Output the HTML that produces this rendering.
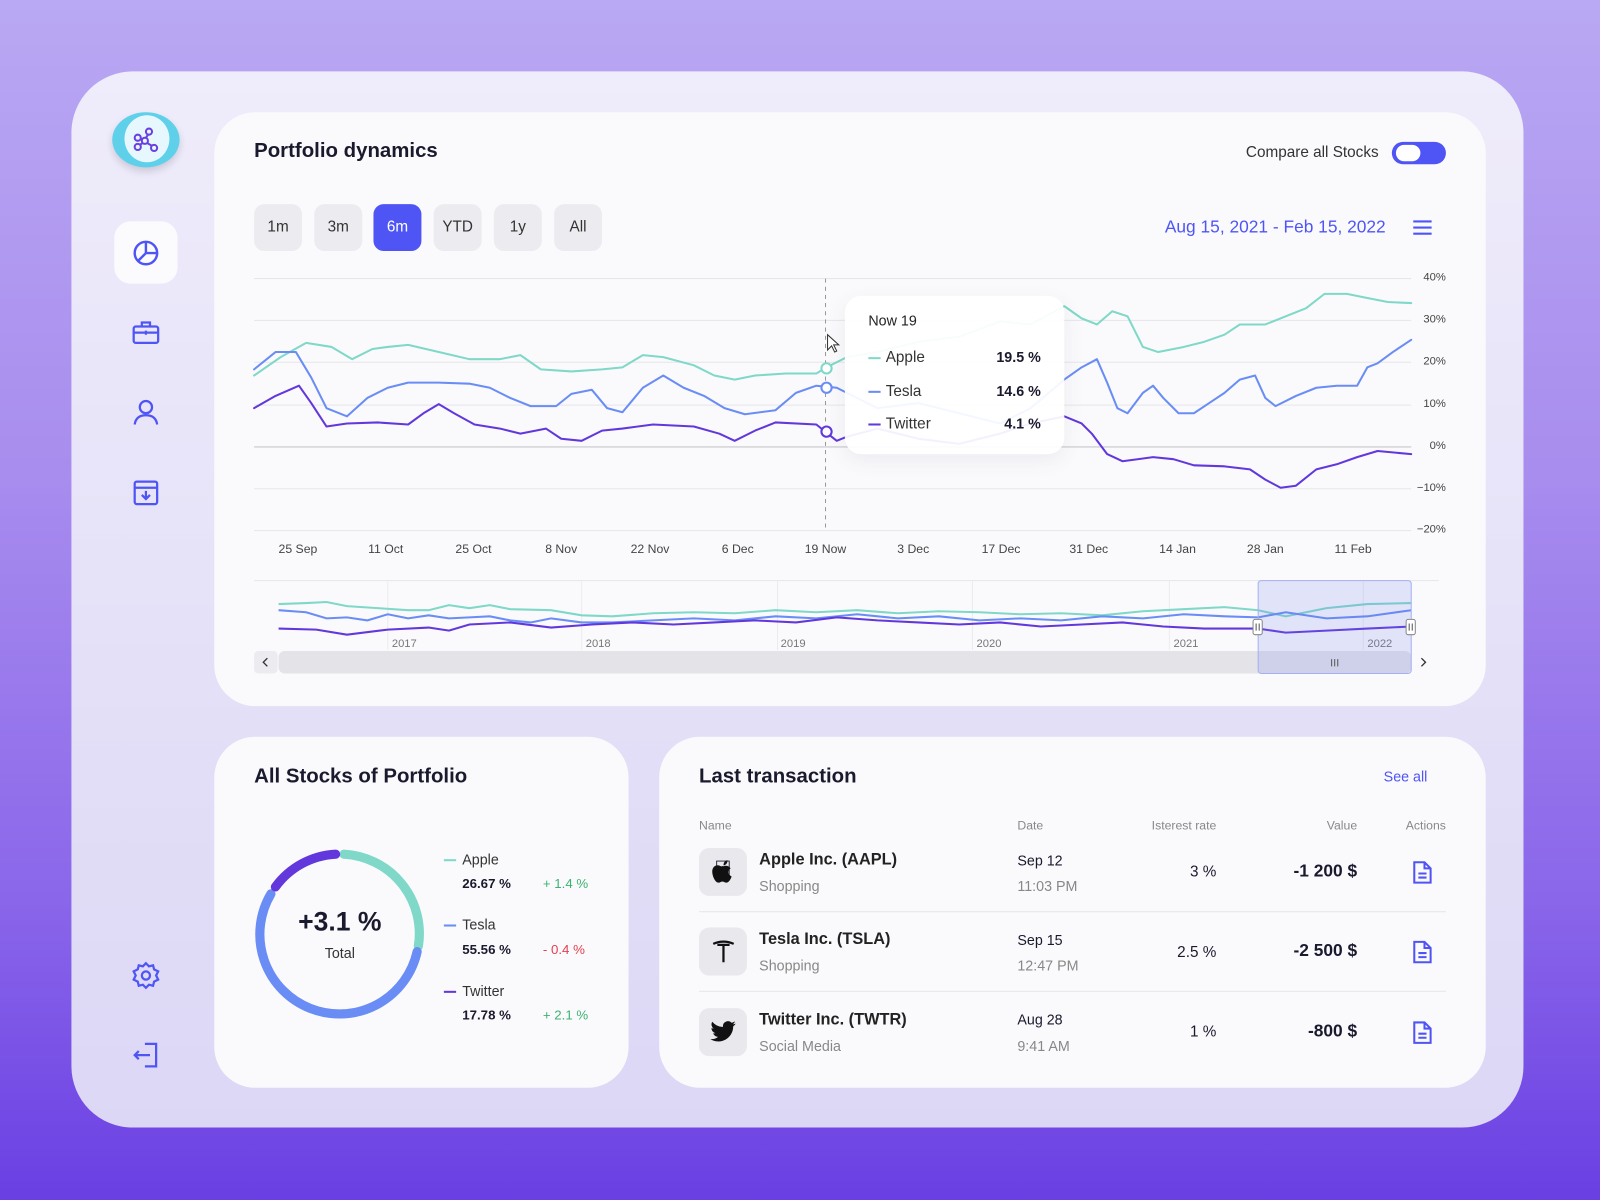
<!DOCTYPE html>
<html><head><meta charset="utf-8"><style>
*{margin:0;padding:0;box-sizing:border-box}
html,body{width:1600px;height:1200px;overflow:hidden}
body{background:linear-gradient(180deg,#b9a8f3 0%,#a88cee 40%,#8a66ea 75%,#6a3fe3 100%);font-family:"Liberation Sans",sans-serif;color:#1a1a2e}
#w{position:absolute;left:0;top:0;width:1568px;height:1176px;transform:scale(1.020408);transform-origin:0 0}
.a{position:absolute}
.outer{left:70px;top:70px;width:1423px;height:1035px;border-radius:60px;background:linear-gradient(180deg,#efecfb,#dcd7f5)}
.card{background:#fafafc;border-radius:40px}
.btn{top:200px;width:47px;height:46px;border-radius:10px;background:#ececf0;font-size:15px;color:#333;text-align:center;line-height:46px}
.t{font-size:20px;font-weight:bold;color:#1a1a2e}
.yl{font-size:11px;color:#444;text-align:right;width:40px}
.xl{font-size:12px;color:#444;text-align:center;width:60px}
.hd{font-size:12px;color:#888}
.nm{font-size:16px;font-weight:bold;color:#222}
.sub{font-size:14px;color:#888}
.ib{width:47px;height:47px;border-radius:10px;background:#e8e8ed}
</style></head><body><div id="w">
<div class="a outer"></div>
<!-- sidebar -->
<div class="a" style="left:110px;top:110px;width:66px;height:54px;border-radius:50%;background:#5fd0ea;box-shadow:0 4px 8px rgba(0,0,0,.15)"></div>
<div class="a" style="left:122px;top:113px;width:44px;height:46px;border-radius:50%;background:#e6f8fd"></div>
<svg class="a" style="left:128px;top:122px" width="30" height="30" viewBox="0 0 30 30" fill="none" stroke="#6a3fe3" stroke-width="2"><circle cx="18" cy="7" r="3"/><circle cx="7" cy="13" r="3"/><circle cx="14" cy="16" r="3"/><circle cx="7" cy="22" r="3"/><circle cx="23" cy="23" r="3"/><path d="M17 10l-2 3M10 14l2 1M12 18l-3 2M16 18l5 3"/></svg>
<div class="a" style="left:112px;top:217px;width:62px;height:61px;border-radius:16px;background:#fbfbfe"></div>
<svg class="a" style="left:128px;top:232px" width="30" height="30" viewBox="0 0 30 30" fill="none" stroke="#4f55f5" stroke-width="2.4"><circle cx="15" cy="16" r="11"/><path d="M15 5v11h11M15 16l-8 8"/></svg>
<svg class="a" style="left:128px;top:311px" width="30" height="30" viewBox="0 0 30 30" fill="none" stroke="#4f55f5" stroke-width="2.2"><rect x="3" y="9" width="24" height="16" rx="2"/><path d="M11 9V5h8v4M3 15h24M15 13v4"/></svg>
<svg class="a" style="left:128px;top:389px" width="30" height="30" viewBox="0 0 30 30" fill="none" stroke="#4f55f5" stroke-width="2.2"><circle cx="15" cy="10" r="6"/><path d="M4 27c1-7 6-9 11-9s10 2 11 9"/></svg>
<svg class="a" style="left:128px;top:468px" width="30" height="30" viewBox="0 0 30 30" fill="none" stroke="#4f55f5" stroke-width="2.2"><rect x="4" y="4" width="22" height="22" rx="2"/><path d="M4 10h22M15 13v8M11 17l4 4 4-4"/></svg>
<svg class="a" style="left:128px;top:941px" width="30" height="30" viewBox="0 0 30 30" fill="none" stroke="#4f55f5" stroke-width="2.2"><circle cx="15" cy="15" r="4"/><path d="M15 3l3 3 4-1 1 4 4 2-2 4 2 4-4 2-1 4-4-1-3 3-3-3-4 1-1-4-4-2 2-4-2-4 4-2 1-4 4 1z"/></svg>
<svg class="a" style="left:128px;top:1019px" width="30" height="30" viewBox="0 0 30 30" fill="none" stroke="#4f55f5" stroke-width="2.2"><path d="M14 4h11v22H14M4 15h15M8 11l-4 4 4 4"/></svg>

<!-- chart card -->
<div class="a card" style="left:210px;top:110px;width:1246px;height:582px"></div>
<div class="a t" style="left:249px;top:137px">Portfolio dynamics</div>
<div class="a" style="left:1221px;top:141px;font-size:15px;color:#333">Compare all Stocks</div>
<div class="a" style="left:1364px;top:139px;width:53px;height:22px;border-radius:11px;background:#4f55f5"></div>
<div class="a" style="left:1368px;top:142px;width:24px;height:16px;border-radius:8px;background:#fff"></div>
<div class="a btn" style="left:249px">1m</div>
<div class="a btn" style="left:308px">3m</div>
<div class="a btn" style="left:366px;background:#4f55f5;color:#fff">6m</div>
<div class="a btn" style="left:425px">YTD</div>
<div class="a btn" style="left:484px">1y</div>
<div class="a btn" style="left:543px">All</div>
<div class="a" style="left:1100px;top:213px;width:258px;text-align:right;font-size:17px;color:#4f55f5">Aug 15, 2021 - Feb 15, 2022</div>
<svg class="a" style="left:1384px;top:214px" width="20" height="18"><path d="M1 3h18M1 9h18M1 15h18" stroke="#4f55f5" stroke-width="2"/></svg>

<svg class="a" style="left:0;top:0" width="1568" height="700">
<g stroke="#e6e6ea" stroke-width="1"><path d="M249 273H1383M249 314H1383M249 355H1383M249 397H1383M249 479H1383M249 520H1383"/></g>
<path d="M249 438H1383" stroke="#c8c8cc"/>
<path d="M809 273V520" stroke="#999" stroke-dasharray="4 4"/>
<g fill="none" stroke-width="2" stroke-linejoin="round" stroke-linecap="round">
<polyline stroke="#7fd8c8" points="249,368 275,350 300,336 325,340 345,352 365,342 380,340 400,338 430,345 460,352 490,352 510,348 530,362 560,364 590,362 610,360 630,348 650,350 680,358 700,368 720,372 740,368 770,366 800,366 810,360 830,350 860,345 900,335 940,330 980,315 1010,318 1043,300 1060,312 1075,318 1090,305 1105,310 1120,340 1135,345 1160,340 1180,335 1200,328 1215,318 1240,318 1260,310 1280,302 1298,288 1320,288 1340,292 1360,296 1383,297"/>
<polyline stroke="#6a8df5" points="249,362 270,345 290,345 305,370 320,400 340,408 360,390 380,380 400,375 430,375 460,376 480,380 500,390 520,398 545,398 560,386 580,382 595,400 610,404 630,380 650,368 670,380 690,388 710,400 730,406 760,402 780,385 800,378 820,380 830,385 860,400 900,395 940,405 980,415 1010,400 1043,372 1060,360 1075,352 1085,375 1095,400 1105,405 1120,385 1130,378 1140,390 1155,405 1170,405 1185,395 1200,385 1215,372 1230,368 1240,390 1250,398 1270,388 1290,380 1310,378 1330,378 1340,360 1350,356 1365,345 1383,333"/>
<polyline stroke="#6237dc" points="249,400 270,388 293,378 305,395 320,418 340,415 370,414 400,416 415,405 430,396 445,405 465,416 490,420 510,425 535,420 550,430 570,432 590,422 610,420 640,416 680,418 705,425 720,432 740,422 760,414 800,416 810,424 820,432 830,428 860,420 900,430 940,435 980,425 1010,415 1043,408 1060,415 1070,425 1085,445 1100,452 1130,448 1150,450 1170,456 1200,457 1225,460 1240,470 1255,478 1270,476 1290,460 1310,455 1330,448 1350,442 1383,445"/>
</g>
<g fill="#fff" stroke-width="2"><circle cx="810" cy="361" r="5" stroke="#7fd8c8"/><circle cx="810" cy="380" r="5" stroke="#6a8df5"/><circle cx="810" cy="423" r="5" stroke="#6237dc"/></g>
<path d="M811 328l0 15 4-4 3 6 2-1-3-6 5 0z" fill="#fff" stroke="#333" stroke-width="1"/>
<!-- navigator -->
<path d="M249 569H1410" stroke="#e6e6ea"/>
<g stroke="#ececf0"><path d="M380 569V637M570 569V637M762 569V637M953 569V637M1146 569V637M1336 569V637"/></g>
<g fill="none" stroke-width="2">
<polyline stroke="#7fd8c8" points="273,592 300,591 320,590 340,594 370,596 400,598 420,598 440,593 460,596 480,593 500,597 540,598 570,603 600,604 640,601 680,600 720,601 760,598 800,600 840,598 880,601 920,599 960,600 1000,602 1040,601 1080,603 1120,599 1160,597 1200,595 1233,598 1260,604 1300,596 1340,592 1383,591"/>
<polyline stroke="#6a8df5" points="273,598 300,600 320,606 340,605 360,608 380,602 400,606 420,603 440,606 460,605 480,604 500,608 520,610 540,606 570,610 600,610 640,608 680,606 720,608 760,604 800,606 840,602 880,606 920,604 960,608 1000,606 1040,608 1080,604 1120,606 1160,602 1200,604 1233,605 1260,600 1300,606 1340,604 1383,598"/>
<polyline stroke="#6237dc" points="273,616 310,617 340,622 380,617 420,615 440,618 460,612 500,610 540,615 580,612 620,610 660,612 700,610 740,608 780,610 820,605 860,608 900,610 940,612 980,610 1020,614 1060,612 1100,610 1140,614 1180,616 1233,616 1260,620 1300,618 1340,616 1383,614"/>
</g>
<g font-family="Liberation Sans" font-size="11" fill="#777"><text x="384" y="634">2017</text><text x="574" y="634">2018</text><text x="765" y="634">2019</text><text x="957" y="634">2020</text><text x="1150" y="634">2021</text><text x="1340" y="634">2022</text></g>
<rect x="249" y="638" width="23" height="22" rx="4" fill="#ececf0"/><path d="M262 645l-4 4 4 4" stroke="#333" fill="none" stroke-width="1.3"/>
<rect x="273" y="638" width="1110" height="22" rx="6" fill="#e3e3e8"/>
<path d="M1393 645l4 4-4 4" stroke="#333" fill="none" stroke-width="1.3"/>
<rect x="1233" y="569" width="150" height="91" rx="3" fill="rgba(110,130,240,0.18)" stroke="#a3b0f2"/>
<rect x="1228" y="607" width="9" height="15" rx="2" fill="#fff" stroke="#888"/><rect x="1378" y="607" width="9" height="15" rx="2" fill="#fff" stroke="#888"/>
<path d="M1231 611v7M1234 611v7M1381 611v7M1384 611v7M1305 646v7M1308 646v7M1311 646v7" stroke="#555"/>
</svg>
<div class="a" style="left:828px;top:290px;width:215px;height:155px;border-radius:16px;background:rgba(255,255,255,.93);box-shadow:0 6px 20px rgba(80,80,120,.08)"></div>
<div class="a" style="left:851px;top:306px;font-size:14px;color:#222">Now 19</div>
<div class="a" style="left:851px;top:350px;width:12px;height:2px;background:#7fd8c8"></div>
<div class="a" style="left:868px;top:342px;font-size:15px;color:#333">Apple</div><div class="a" style="left:940px;top:342px;width:80px;text-align:right;font-size:14px;font-weight:bold">19.5 %</div>
<div class="a" style="left:851px;top:383px;width:12px;height:2px;background:#6a8df5"></div>
<div class="a" style="left:868px;top:375px;font-size:15px;color:#333">Tesla</div><div class="a" style="left:940px;top:375px;width:80px;text-align:right;font-size:14px;font-weight:bold">14.6 %</div>
<div class="a" style="left:851px;top:415px;width:12px;height:2px;background:#6237dc"></div>
<div class="a" style="left:868px;top:407px;font-size:15px;color:#333">Twitter</div><div class="a" style="left:940px;top:407px;width:80px;text-align:right;font-size:14px;font-weight:bold">4.1 %</div>
<div class="a yl" style="left:1377px;top:266px">40%</div><div class="a yl" style="left:1377px;top:307px">30%</div><div class="a yl" style="left:1377px;top:348px">20%</div><div class="a yl" style="left:1377px;top:390px">10%</div><div class="a yl" style="left:1377px;top:431px">0%</div><div class="a yl" style="left:1377px;top:472px">−10%</div><div class="a yl" style="left:1377px;top:513px">−20%</div>
<div class="a xl" style="left:262px;top:531px">25 Sep</div><div class="a xl" style="left:348px;top:531px">11 Oct</div><div class="a xl" style="left:434px;top:531px">25 Oct</div><div class="a xl" style="left:520px;top:531px">8 Nov</div><div class="a xl" style="left:607px;top:531px">22 Nov</div><div class="a xl" style="left:693px;top:531px">6 Dec</div><div class="a xl" style="left:779px;top:531px">19 Now</div><div class="a xl" style="left:865px;top:531px">3 Dec</div><div class="a xl" style="left:951px;top:531px">17 Dec</div><div class="a xl" style="left:1037px;top:531px">31 Dec</div><div class="a xl" style="left:1124px;top:531px">14 Jan</div><div class="a xl" style="left:1210px;top:531px">28 Jan</div><div class="a xl" style="left:1296px;top:531px">11 Feb</div>

<!-- donut card -->
<div class="a card" style="left:210px;top:722px;width:406px;height:344px"></div>
<div class="a t" style="left:249px;top:750px">All Stocks of Portfolio</div>
<svg class="a" style="left:248px;top:830px" width="170" height="170" viewBox="-85 -85 170 170" fill="none" stroke-width="9" stroke-linecap="round">
<path stroke="#7fd8c8" d="M4.1 -77.9 A78 78 0 0 1 77 12.2"/>
<path stroke="#6a8df5" d="M75.8 17.6 A78 78 0 1 1 -67.5 -39"/>
<path stroke="#6237dc" d="M-63.1 -45.8 A78 78 0 0 1 -4.1 -77.9"/>
</svg>
<div class="a" style="left:263px;top:888px;width:140px;text-align:center;font-size:26px;font-weight:bold">+3.1 %</div>
<div class="a" style="left:263px;top:926px;width:140px;text-align:center;font-size:14px;color:#333">Total</div>
<div class="a" style="left:435px;top:842px;width:12px;height:2px;background:#7fd8c8"></div><div class="a" style="left:453px;top:834px;font-size:14px;color:#333">Apple</div>
<div class="a" style="left:453px;top:858px;font-size:13px;font-weight:bold">26.67 %</div><div class="a" style="left:532px;top:858px;font-size:13px;color:#3cb371">+ 1.4 %</div>
<div class="a" style="left:435px;top:906px;width:12px;height:2px;background:#6a8df5"></div><div class="a" style="left:453px;top:898px;font-size:14px;color:#333">Tesla</div>
<div class="a" style="left:453px;top:923px;font-size:13px;font-weight:bold">55.56 %</div><div class="a" style="left:532px;top:923px;font-size:13px;color:#e0404f">- 0.4 %</div>
<div class="a" style="left:435px;top:971px;width:12px;height:2px;background:#6237dc"></div><div class="a" style="left:453px;top:963px;font-size:14px;color:#333">Twitter</div>
<div class="a" style="left:453px;top:987px;font-size:13px;font-weight:bold">17.78 %</div><div class="a" style="left:532px;top:987px;font-size:13px;color:#3cb371">+ 2.1 %</div>

<!-- transactions -->
<div class="a card" style="left:646px;top:722px;width:810px;height:344px"></div>
<div class="a t" style="left:685px;top:750px">Last transaction</div>
<div class="a" style="left:1356px;top:753px;font-size:14px;color:#4f55f5">See all</div>
<div class="a hd" style="left:685px;top:802px">Name</div><div class="a hd" style="left:997px;top:802px">Date</div>
<div class="a hd" style="left:1092px;top:802px;width:100px;text-align:right">Isterest rate</div>
<div class="a hd" style="left:1230px;top:802px;width:100px;text-align:right">Value</div>
<div class="a hd" style="left:1317px;top:802px;width:100px;text-align:right">Actions</div>
<div class="a" style="left:685px;top:893px;width:732px;height:1px;background:#e6e6ea"></div>
<div class="a" style="left:685px;top:971px;width:732px;height:1px;background:#e6e6ea"></div>

<div class="a ib" style="left:685px;top:831px"></div>
<div class="a" style="left:685px;top:839px;width:47px;text-align:center;font-size:24px">&#63743;</div>
<svg class="a" style="left:697px;top:842px" width="24" height="26" viewBox="0 0 24 26"><path d="M12 7c2-1 5-1 7 2-3 2-3 6 1 8-1 3-3 6-5 6-2 0-2-1-4-1s-2 1-4 1c-3 0-6-6-6-11 0-4 3-6 5-6 2 0 3 1 4 1s2-1 2 0z" fill="#111"/><path d="M12 6c0-3 2-5 4-5 0 3-2 5-4 5z" fill="#111"/></svg>
<div class="a nm" style="left:744px;top:834px">Apple Inc. (AAPL)</div><div class="a sub" style="left:744px;top:860px">Shopping</div>
<div class="a" style="left:997px;top:835px;font-size:14px">Sep 12</div><div class="a sub" style="left:997px;top:860px">11:03 PM</div>
<div class="a" style="left:1092px;top:846px;width:100px;text-align:right;font-size:15px">3 %</div>
<div class="a" style="left:1180px;top:844px;width:150px;text-align:right;font-size:17px;font-weight:bold">-1 200 $</div>

<div class="a ib" style="left:685px;top:909px"></div>
<svg class="a" style="left:697px;top:921px" width="24" height="24" viewBox="0 0 24 24"><path d="M2 4c6-3 14-3 20 0M6 5h12M12 5v17" stroke="#111" stroke-width="2.2" fill="none"/></svg>
<div class="a nm" style="left:744px;top:912px">Tesla Inc. (TSLA)</div><div class="a sub" style="left:744px;top:938px">Shopping</div>
<div class="a" style="left:997px;top:913px;font-size:14px">Sep 15</div><div class="a sub" style="left:997px;top:938px">12:47 PM</div>
<div class="a" style="left:1092px;top:925px;width:100px;text-align:right;font-size:15px">2.5 %</div>
<div class="a" style="left:1180px;top:922px;width:150px;text-align:right;font-size:17px;font-weight:bold">-2 500 $</div>

<div class="a ib" style="left:685px;top:988px"></div>
<svg class="a" style="left:696px;top:1000px" width="26" height="22" viewBox="0 0 26 22"><path d="M25 3c-1 .5-2 .7-3 .8 1-.6 2-1.6 2.3-2.8-1 .6-2 1-3.3 1.3A5 5 0 0 0 12.5 6.5 14.5 14.5 0 0 1 2 1.3a5 5 0 0 0 1.5 6.8c-.8 0-1.6-.3-2.3-.6 0 2.5 1.8 4.5 4 5-.7.2-1.5.2-2.3.1.7 2 2.5 3.5 4.8 3.5A10 10 0 0 1 0 18.2 14.5 14.5 0 0 0 22.5 5.8c1-.7 1.8-1.6 2.5-2.8z" fill="#111"/></svg>
<div class="a nm" style="left:744px;top:991px">Twitter Inc. (TWTR)</div><div class="a sub" style="left:744px;top:1017px">Social Media</div>
<div class="a" style="left:997px;top:991px;font-size:14px">Aug 28</div><div class="a sub" style="left:997px;top:1017px">9:41 AM</div>
<div class="a" style="left:1092px;top:1003px;width:100px;text-align:right;font-size:15px">1 %</div>
<div class="a" style="left:1180px;top:1001px;width:150px;text-align:right;font-size:17px;font-weight:bold">-800 $</div>

<svg class="a" style="left:1383px;top:843px" width="22" height="24" viewBox="0 0 22 24" fill="none" stroke="#4f55f5" stroke-width="2"><path d="M3 2h10l6 6v14H3z M13 2v6h6M7 13h8M7 17h8"/></svg>
<svg class="a" style="left:1383px;top:921px" width="22" height="24" viewBox="0 0 22 24" fill="none" stroke="#4f55f5" stroke-width="2"><path d="M3 2h10l6 6v14H3z M13 2v6h6M7 13h8M7 17h8"/></svg>
<svg class="a" style="left:1383px;top:1000px" width="22" height="24" viewBox="0 0 22 24" fill="none" stroke="#4f55f5" stroke-width="2"><path d="M3 2h10l6 6v14H3z M13 2v6h6M7 13h8M7 17h8"/></svg>
</div></body></html>
